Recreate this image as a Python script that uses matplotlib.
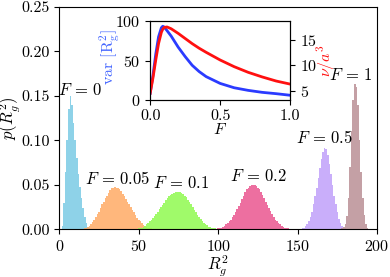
import numpy as np
import matplotlib
matplotlib.use('Agg')
import matplotlib.pyplot as plt

plt.rcParams['font.family'] = 'serif'
plt.rcParams['font.serif'] = ['cmr10']
plt.rcParams['mathtext.fontset'] = 'cm'
plt.rcParams['axes.formatter.use_mathtext'] = True
plt.rcParams['font.size'] = 11.5

# histogramas p(R_g^2): primer centro de bin (ancho 1) y alturas
F_labels = ['0', '0.05', '0.1', '0.2', '0.5', '1']

start0 = 2
h0 = [0.004, 0.03, 0.065, 0.10, 0.135, 0.15, 0.14, 0.12, 0.10, 0.08,
      0.062, 0.048, 0.035, 0.024, 0.014, 0.007, 0.003, 0.001]

start005 = 16
h005 = [0.001, 0.002, 0.003, 0.004, 0.006, 0.008, 0.011, 0.014, 0.017, 0.020,
        0.024, 0.028, 0.031, 0.035, 0.038, 0.041, 0.044, 0.046, 0.047, 0.0475,
        0.047, 0.046, 0.045, 0.043, 0.040, 0.037, 0.034, 0.031, 0.028, 0.025,
        0.022, 0.019, 0.016, 0.013, 0.011, 0.009, 0.007, 0.005, 0.004, 0.003,
        0.002, 0.0015, 0.001]

start01 = 50
h01 = [0.001, 0.0015, 0.002, 0.003, 0.004, 0.0055, 0.007, 0.009, 0.011, 0.013,
       0.015, 0.0175, 0.020, 0.0225, 0.025, 0.0275, 0.030, 0.0325, 0.035, 0.037,
       0.039, 0.040, 0.041, 0.0415, 0.042, 0.042, 0.042, 0.041, 0.040, 0.038,
       0.036, 0.0335, 0.031, 0.028, 0.025, 0.022, 0.019, 0.0165, 0.014, 0.0115,
       0.009, 0.0075, 0.006, 0.0045, 0.003, 0.0025, 0.002, 0.0015, 0.001, 0.0005]

start02 = 100
h02 = [0.001, 0.0015, 0.002, 0.003, 0.004, 0.0055, 0.007, 0.009, 0.011, 0.0135,
       0.016, 0.0195, 0.023, 0.0265, 0.030, 0.034, 0.038, 0.0415, 0.045, 0.047,
       0.049, 0.0495, 0.050, 0.0495, 0.049, 0.047, 0.045, 0.042, 0.039, 0.035,
       0.031, 0.0275, 0.024, 0.0205, 0.017, 0.014, 0.011, 0.009, 0.007, 0.0055,
       0.004, 0.003, 0.002, 0.0015, 0.001]

start05 = 153
h05 = [0.001, 0.002, 0.004, 0.006, 0.009, 0.014, 0.020, 0.028, 0.037, 0.047,
       0.058, 0.069, 0.079, 0.087, 0.091, 0.090, 0.084, 0.074, 0.062, 0.050,
       0.038, 0.028, 0.019, 0.012, 0.007, 0.004, 0.002, 0.001]

start1 = 178
h1 = [0.001, 0.003, 0.006, 0.015, 0.035, 0.07, 0.11, 0.145, 0.163, 0.16,
      0.14, 0.10, 0.065, 0.035, 0.016, 0.006, 0.002]

colores = ['#82cde6', '#ffaf6e', '#96fa5a', '#eb5f96', '#c3a5fa', '#be969b']

# posiciones de las etiquetas (datos)
lab_x = [13, 36.7, 76.5, 125, 167, 183.5]
lab_y = [0.157, 0.0576, 0.052, 0.0605, 0.1027, 0.173]

# inset
F = [0, 0.02, 0.04, 0.06, 0.08, 0.09, 0.10, 0.12, 0.15, 0.2, 0.25, 0.3,
     0.35, 0.4, 0.5, 0.6, 0.7, 0.8, 0.9, 1.0]
var_R = [8.4, 31, 58, 80, 91.5, 93.4, 92.5, 88, 81, 67, 55, 44,
         36, 29.6, 21, 15.5, 12.2, 9.7, 8, 6]
nu_a3 = [4.5, 7.5, 11, 14.2, 16.4, 17.0, 17.35, 17.45, 17.1, 16.2, 15.2, 14.2,
         13.3, 12.5, 11.0, 9.7, 8.6, 7.7, 6.9, 6.3]

fig = plt.figure(figsize=(3.9, 2.77), dpi=100)
ax = fig.add_axes([0.152, 0.172, 0.815, 0.803])

hist = [(start0, h0), (start005, h005), (start01, h01),
        (start02, h02), (start05, h05), (start1, h1)]

for (s, h), c in zip(hist, colores):
    bordes = s - 0.5 + np.arange(len(h) + 1)
    ax.stairs(h, bordes, fill=True, color=c, alpha=0.9, linewidth=0)

for lx, ly, lab in zip(lab_x, lab_y, F_labels):
    ax.text(lx, ly, r'$F\,=\,' + lab + '$', ha='center', va='center',
            fontsize=12)

ax.set_xlim(0, 200)
ax.set_ylim(0, 0.25)
ax.set_xticks([0, 50, 100, 150, 200])
ax.set_yticks([0, 0.05, 0.10, 0.15, 0.20, 0.25])
ax.set_yticklabels(['0.00', '0.05', '0.10', '0.15', '0.20', '0.25'])
ax.set_xlabel(r'$R_g^2$', fontsize=12)
ax.xaxis.set_label_coords(0.5, -0.105)
ax.set_ylabel(r'$p(R_g^2)$', fontsize=12)
ax.yaxis.set_label_coords(-0.117, 0.5)

# inset
axi = fig.add_axes([0.385, 0.639, 0.359, 0.285])
axi.plot(F, var_R, color='#2b3bff', lw=2)
axi.set_xlim(0, 1)
axi.set_ylim(0, 100)
axi.set_xticks([0, 0.5, 1.0])
axi.set_xticklabels(['0.0', '0.5', '1.0'])
axi.set_yticks([0, 50, 100])
axi.set_xlabel(r'$F$')
axi.xaxis.set_label_coords(0.5, -0.28)
axi.set_ylabel(r'var $[\mathrm{R_g^2}]$', color='#4466ff')
axi.yaxis.set_label_coords(-0.20, 0.55)

axr = axi.twinx()
axr.plot(F, nu_a3, color='#ff1010', lw=2)
axr.set_ylim(3.2, 18.6)
axr.set_yticks([5, 10, 15])
axr.set_ylabel(r'$\nu/a^3$', color='#ff1010')
axr.yaxis.set_label_coords(1.175, 0.5)

fig.savefig('out.png', dpi=100)
